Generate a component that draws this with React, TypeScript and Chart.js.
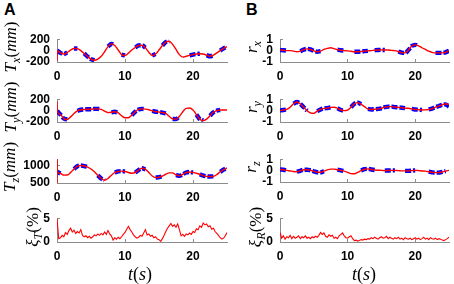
import React, { useEffect, useRef } from "react";
import { Chart, registerables } from "chart.js";

Chart.register(...registerables);

// ---------------- data ----------------
const xTicks = [0, 10, 20];
const tTicks = [-200, 0, 200];
const tzTicks = [500, 1000];
const rTicks = [-1, 0, 1];
const xiTicks = [0, 5];

// measurement time grid (s)
const tGrid = [
  0, 0.5, 1, 1.5, 2, 2.5, 3, 3.5, 4, 4.5,
  5, 5.5, 6, 6.5, 7, 7.5, 8, 8.5, 9, 9.5,
  10, 10.5, 11, 11.5, 12, 12.5, 13, 13.5, 14, 14.5,
  15, 15.5, 16, 16.5, 17, 17.5, 18, 18.5, 19, 19.5,
  20, 20.5, 21, 21.5, 22, 22.5, 23, 23.5, 24, 24.5,
  25,
];
// estimate time grid (s), with the start-up transient
const tEst = [
  0, 0.02, 0.05,
  0.5, 1, 1.5, 2, 2.5, 3, 3.5, 4, 4.5,
  5, 5.5, 6, 6.5, 7, 7.5, 8, 8.5, 9, 9.5,
  10, 10.5, 11, 11.5, 12, 12.5, 13, 13.5, 14, 14.5,
  15, 15.5, 16, 16.5, 17, 17.5, 18, 18.5, 19, 19.5,
  20, 20.5, 21, 21.5, 22, 22.5, 23, 23.5, 24, 24.5,
  25,
];
// error time grid (s)
const tFine = [
  0, 0.25, 0.5, 0.75, 1, 1.25, 1.5, 1.75, 2, 2.25, 2.5, 2.75, 3, 3.25, 3.5, 3.75, 4, 4.25, 4.5, 4.75,
  5, 5.25, 5.5, 5.75, 6, 6.25, 6.5, 6.75, 7, 7.25, 7.5, 7.75, 8, 8.25, 8.5, 8.75, 9, 9.25, 9.5, 9.75,
  10, 10.25, 10.5, 10.75, 11, 11.25, 11.5, 11.75, 12, 12.25, 12.5, 12.75, 13, 13.25, 13.5, 13.75, 14, 14.25, 14.5, 14.75,
  15, 15.25, 15.5, 15.75, 16, 16.25, 16.5, 16.75, 17, 17.25, 17.5, 17.75, 18, 18.25, 18.5, 18.75, 19, 19.25, 19.5, 19.75,
  20, 20.25, 20.5, 20.75, 21, 21.25, 21.5, 21.75, 22, 22.25, 22.5, 22.75, 23, 23.25, 23.5, 23.75, 24, 24.25, 24.5, 24.75,
  25,
];

// T_x (mm)
const txEst = [
  -180, -90, 0,
  -40, -60, -35, 10, 38, 35, 0, -50, -105,
  -150, -170, -150, -100, -20, 70, 115, 90, 10, -70,
  -85, -45, 10, 55, 90, 95, 50, -30, -85, -60,
  10, 90, 150, 165, 110, 20, -70, -115, -100, -85,
  -70, -60, -55, -60, -80, -100, -80, -40, 0, 40,
  70,
];
const txMeas = [
  0, -40, -60, -35, null, 38, 35, null, -50, -105,
  -150, -170, null, null, null, 70, 115, 90, null, -70,
  -85, null, null, 55, 90, 95, 50, null, -85, -60,
  null, 90, 150, 165, null, null, null, null, null, -85,
  -70, -60, -55, null, -80, -100, -80, null, 0, 40,
  70,
];
// T_y (mm)
const tyEst = [
  160, 80, -10,
  -70, -140, -155, -110, -50, -5, 15, 20, 25,
  25, 30, 30, 20, -10, -35, -30, -20, -40, -90,
  -125, -125, -80, -20, 20, 30, 25, 15, -5, -20,
  -25, -35, -50, -100, -145, -150, -100, -20, 40, 45,
  10, -70, -150, -175, -150, -90, -30, 0, 10, 10,
  10,
];
const tyMeas = [
  -10, -70, -140, -155, null, null, -5, 15, 20, 25,
  25, 30, 30, 20, null, null, -30, -20, -40, null,
  null, null, -80, -20, 20, 30, 25, null, -5, -20,
  -25, -35, -50, null, -145, -150, -100, null, null, null,
  null, -70, -150, -175, null, -90, -30, 0, 10, null,
  null,
];
// T_z (mm)
const tzEst = [
  420, 1200, 820,
  770, 725, 730, 800, 900, 980, 1000, 985, 955,
  900, 820, 720, 630, 580, 630, 720, 800, 830, 840,
  830, 800, 780, 800, 870, 920, 890, 800, 700, 655,
  665, 700, 750, 790, 790, 730, 705, 750, 800, 815,
  800, 780, 750, 710, 690, 685, 690, 740, 820, 880,
  930,
];
const tzMeas = [
  820, 770, null, null, null, 900, 980, 1000, 985, 955,
  null, null, 720, 630, 580, null, null, 800, 830, 840,
  830, null, null, 800, 870, 920, 890, null, null, 655,
  665, 700, null, null, null, 730, 705, 750, 800, 815,
  800, null, 750, 710, 690, 685, 690, null, 820, 880,
  930,
];
// r_x
const rxEst = [
  0.05, 0.05, 0.05,
  0.03, 0, 0, -0.05, -0.1, -0.05, 0.08, 0.15, 0.1,
  -0.02, -0.1, -0.05, 0.1, 0.2, 0.25, 0.18, 0.08, 0.03, 0,
  -0.02, -0.06, -0.1, -0.1, -0.08, -0.05, -0.02, 0, 0.03, 0.05,
  0.06, 0.05, 0.05, 0.02, 0, -0.08, -0.18, -0.2, 0.05, 0.4,
  0.5, 0.42, 0.25, 0.1, -0.05, -0.15, -0.2, -0.2, -0.2, -0.15,
  0,
];
const rxMeas = [
  0.05, 0.03, 0, null, null, null, -0.05, 0.08, 0.15, 0.1,
  -0.02, -0.1, -0.05, null, null, null, null, 0.08, 0.03, 0,
  null, null, -0.1, -0.1, -0.08, -0.05, -0.02, null, 0.03, 0.05,
  0.06, 0.05, null, null, null, -0.08, -0.18, -0.2, 0.05, 0.4,
  0.5, 0.4, null, null, null, null, -0.2, -0.2, -0.2, -0.15,
  0,
];
// r_y
const ryEst = [
  0.02, 0.02, 0.02,
  0.05, 0.1, 0.3, 0.6, 0.75, 0.6, 0.3, 0, -0.2,
  -0.24, -0.05, 0.1, 0.2, 0.22, 0.28, 0.3, 0.2, 0.05, 0,
  0.05, 0.3, 0.6, 0.7, 0.55, 0.35, 0.15, 0.1, 0.12, 0.15,
  0.2, 0.3, 0.35, 0.35, 0.3, 0.28, 0.25, 0.22, 0.2, 0.15,
  0.1, 0.08, 0.05, 0.06, 0.1, 0.18, 0.3, 0.4, 0.5, 0.6,
  0.5,
];
const ryMeas = [
  0.02, 0.05, 0.1, null, 0.6, 0.75, 0.6, 0.3, 0, null,
  null, -0.05, 0.1, 0.2, 0.22, 0.28, null, 0.2, 0.05, 0,
  null, 0.3, 0.6, 0.7, 0.55, null, 0.15, 0.1, 0.12, 0.15,
  0.2, 0.3, 0.35, 0.35, 0.3, 0.28, 0.25, 0.22, null, 0.15,
  0.1, 0.08, 0.05, null, 0.1, 0.18, 0.3, 0.4, 0.5, 0.55,
  0.35,
];
// r_z
const rzEst = [
  0.1, 0.1, 0.1,
  0.07, 0.02, -0.03, -0.08, -0.1, -0.02, 0.08, 0.08, 0.03,
  -0.06, -0.14, -0.15, -0.05, 0.06, 0.13, 0.13, 0.08, 0.02, -0.05,
  -0.15, -0.26, -0.28, -0.15, 0, 0.12, 0.15, 0.1, 0.05, 0.03,
  0.02, 0, 0.01, 0.02, 0.02, 0, -0.02, -0.02, -0.02, 0,
  0.02, 0, -0.03, -0.05, -0.1, -0.15, -0.18, -0.18, -0.12, -0.05,
  0.02,
];
const rzMeas = [
  0.1, 0.07, 0.02, null, null, -0.1, -0.02, 0.08, 0.08, 0.03,
  -0.06, -0.14, -0.15, -0.05, null, null, null, 0.08, 0.02, -0.05,
  null, null, null, null, 0, 0.12, 0.15, 0.1, 0.05, null,
  null, 0, 0.01, 0.02, 0.02, null, null, -0.02, -0.02, 0,
  0.02, null, null, null, -0.1, -0.15, -0.18, -0.18, -0.12, -0.05,
  null,
];
// xi_T (%)
const xiT = [
  5.0, 0.7, 0.9, 1.4, 1.1, 2.0, 1.6, 2.4, 2.9, 2.1, 2.5, 1.8, 2.2, 1.9, 2.6, 1.4, 1.1, 1.3, 0.9, 1.2,
  0.8, 1.1, 1.5, 1.3, 1.7, 1.4, 1.8, 1.5, 2.1, 1.6, 2.4, 1.7, 1.3, 0.4, 0.9, 0.6, 1.0, 0.7, 1.1, 1.6,
  2.0, 2.7, 3.3, 2.6, 2.1, 1.5, 1.1, 0.8, 1.0, 1.4, 1.2, 1.9, 2.6, 1.5, 1.7, 1.2, 1.4, 0.9, 1.1, 0.6,
  0.5, 0.15, 0.7, 1.4, 2.2, 2.9, 3.4, 3.9, 3.3, 3.6, 3.1, 3.8, 2.6, 1.3, 1.6, 1.2, 1.7, 1.5, 1.9, 1.6,
  2.2, 2.0, 2.8, 2.6, 3.4, 3.1, 4.0, 3.6, 3.8, 3.2, 3.4, 2.7, 2.9, 2.2, 1.8, 1.4, 0.9, 0.6, 0.8, 1.3,
  2.0,
];
// xi_R (%)
const xiR = [
  2.0, 0.8, 1.3, 0.6, 1.1, 0.9, 1.4, 0.7, 1.2, 0.8, 1.0, 1.3, 0.7, 1.1, 0.9, 1.3, 0.8, 1.0, 0.7, 1.1,
  0.9, 1.2, 1.0, 1.4, 2.0, 1.6, 1.9, 1.2, 1.0, 1.5, 1.2, 1.4, 0.8, 1.0, 0.7, 1.3, 1.6, 1.9, 1.3, 0.9,
  0.8, 1.1, 1.3, 0.7, 0.3, 0.4, 0.2, 0.3, 0.5, 0.4, 0.6, 0.5, 0.7, 0.6, 0.9, 0.7, 1.0, 0.8, 0.6, 0.9,
  1.1, 0.8, 0.9, 1.2, 0.7, 1.0, 0.8, 0.6, 0.9, 0.7, 1.0, 0.6, 0.8, 0.5, 0.9, 0.7, 0.6, 0.8, 0.5, 0.7,
  0.9, 0.6, 0.8, 0.5, 0.7, 1.0, 0.6, 0.8, 0.5, 0.9, 0.7, 0.6, 0.8, 0.5, 0.7, 0.6, 0.4, 0.3, 0.5, 0.7,
  1.0,
];

// ---------------- styling ----------------
const RED = "#ff0000";
const BLUE = "#0000ff";
const AXIS = "#8c8c8c";
const SANS = "'Liberation Sans', Arial, Helvetica, sans-serif";
const SERIF = "'Liberation Serif', 'Times New Roman', serif";
const PL = 46;
const PT = 10;
const PR = 6;
const PB = 24;

function pts(t: number[], v: (number | null)[]) {
  return t.map((x, i) => ({ x, y: v[i] }));
}

function est(v: number[]) {
  return {
    data: pts(tEst, v),
    borderColor: RED,
    borderWidth: 1.4,
    pointRadius: 0,
    cubicInterpolationMode: "monotone",
    order: 0,
  };
}
function meas(v: (number | null)[]) {
  return {
    data: pts(tGrid, v),
    borderColor: BLUE,
    borderWidth: 4.4,
    borderDash: [6, 2],
    borderCapStyle: "butt",
    pointRadius: 0,
    spanGaps: false,
    cubicInterpolationMode: "monotone",
    order: 1,
  };
}
function noise(v: number[]) {
  return {
    data: pts(tFine, v),
    borderColor: RED,
    borderWidth: 1.1,
    pointRadius: 0,
    tension: 0,
    order: 0,
  };
}

type PanelProps = {
  l: number;
  t: number;
  w: number;
  h: number;
  yMin: number;
  yMax: number;
  yTicks: number[];
  datasets: any[];
};

function Panel(p: PanelProps) {
  const ref = useRef<HTMLCanvasElement>(null);
  useEffect(() => {
    const font: any = { family: SANS, size: 12, weight: "bold" };
    const chart = new Chart(ref.current as HTMLCanvasElement, {
      type: "line",
      data: { datasets: p.datasets as any },
      options: {
        animation: false,
        responsive: false,
        events: [],
        layout: { padding: { left: 0, top: PT, right: PR, bottom: 0 } },
        plugins: { legend: { display: false }, tooltip: { enabled: false } },
        scales: {
          x: {
            type: "linear",
            min: 0,
            max: 25,
            afterBuildTicks: (s: any) => {
              s.ticks = xTicks.map((v) => ({ value: v }));
            },
            afterFit: (s: any) => {
              s.height = PB;
            },
            grid: { display: true, drawOnChartArea: false, drawTicks: true, tickLength: -3, color: AXIS },
            border: { display: true, color: AXIS, width: 1 },
            ticks: { font, color: "#000", padding: 10, maxRotation: 0, autoSkip: false, callback: (v: any) => String(v) },
          },
          y: {
            type: "linear",
            min: p.yMin,
            max: p.yMax,
            afterBuildTicks: (s: any) => {
              s.ticks = p.yTicks.map((v) => ({ value: v }));
            },
            afterFit: (s: any) => {
              s.width = PL;
            },
            grid: { display: true, drawOnChartArea: false, drawTicks: true, tickLength: -3, color: AXIS },
            border: { display: true, color: AXIS, width: 1 },
            ticks: { font, color: "#000", padding: 10, autoSkip: false, callback: (v: any) => String(v) },
          },
        },
      } as any,
    });
    return () => chart.destroy();
  }, []);
  return (
    <canvas
      ref={ref}
      width={p.w + PL + PR}
      height={p.h + PT + PB}
      style={{ position: "absolute", left: p.l - PL, top: p.t - PT }}
    />
  );
}

const Sub = ({ children }: { children: any }) => (
  <span style={{ fontSize: "0.72em", position: "relative", top: "0.3em" }}>{children}</span>
);
const Up = ({ children }: { children: any }) => <span style={{ fontStyle: "normal" }}>{children}</span>;

function YTitle({ x, y, children }: { x: number; y: number; children: any }) {
  return (
    <div
      style={{
        position: "absolute",
        left: x,
        top: y,
        transform: "translate(-50%, -50%) rotate(-90deg)",
        whiteSpace: "nowrap",
        fontFamily: SERIF,
        fontStyle: "italic",
        fontSize: 17,
        lineHeight: "20px",
        color: "#000",
      }}
    >
      {children}
    </div>
  );
}

function Text({ x, y, size, bold, italic, serif, children }: any) {
  return (
    <div
      style={{
        position: "absolute",
        left: x,
        top: y,
        whiteSpace: "nowrap",
        fontFamily: serif ? SERIF : SANS,
        fontWeight: bold ? "bold" : "normal",
        fontStyle: italic ? "italic" : "normal",
        fontSize: size,
        lineHeight: `${size}px`,
        color: "#000",
      }}
    >
      {children}
    </div>
  );
}

export default function App() {
  const LX = 57;
  const LW = 170;
  const RX = 280;
  const RW = 169;
  return (
    <div style={{ position: "absolute", left: 0, top: 0, width: 454, height: 284, background: "#fff", overflow: "hidden" }}>
      <Panel l={LX} t={32} w={LW} h={30} yMin={-200} yMax={200} yTicks={tTicks} datasets={[est(txEst), meas(txMeas)]} />
      <Panel l={LX} t={92} w={LW} h={30} yMin={-200} yMax={200} yTicks={tTicks} datasets={[est(tyEst), meas(tyMeas)]} />
      <Panel l={LX} t={152} w={LW} h={31} yMin={500} yMax={1180} yTicks={tzTicks} datasets={[est(tzEst), meas(tzMeas)]} />
      <Panel l={LX} t={211} w={LW} h={31} yMin={0} yMax={5} yTicks={xiTicks} datasets={[noise(xiT)]} />

      <Panel l={RX} t={32} w={RW} h={30} yMin={-1} yMax={1} yTicks={rTicks} datasets={[est(rxEst), meas(rxMeas)]} />
      <Panel l={RX} t={92} w={RW} h={30} yMin={-1} yMax={1} yTicks={rTicks} datasets={[est(ryEst), meas(ryMeas)]} />
      <Panel l={RX} t={152} w={RW} h={30} yMin={-1} yMax={1} yTicks={rTicks} datasets={[est(rzEst), meas(rzMeas)]} />
      <Panel l={RX} t={211} w={RW} h={31} yMin={0} yMax={5} yTicks={xiTicks} datasets={[noise(xiR)]} />

      <Text x={4} y={2} size={16} bold>A</Text>
      <Text x={246} y={2} size={16} bold>B</Text>

      <YTitle x={11} y={47}>T<Sub>x</Sub><Up>(</Up>mm<Up>)</Up></YTitle>
      <YTitle x={11} y={107}>T<Sub>y</Sub><Up>(</Up>mm<Up>)</Up></YTitle>
      <YTitle x={10} y={167}>T<Sub>z</Sub><Up>(</Up>mm<Up>)</Up></YTitle>
      <YTitle x={33} y={227}>ξ<Sub>T</Sub><Up>(%)</Up></YTitle>

      <YTitle x={252} y={47}>r<Sub>x</Sub></YTitle>
      <YTitle x={252} y={107}>r<Sub>y</Sub></YTitle>
      <YTitle x={251} y={167}>r<Sub>z</Sub></YTitle>
      <YTitle x={256} y={227}>ξ<Sub>R</Sub><Up>(%)</Up></YTitle>

      <Text x={128} y={265} size={18} italic serif>t<Up>(</Up>s<Up>)</Up></Text>
      <Text x={352} y={265} size={18} italic serif>t<Up>(</Up>s<Up>)</Up></Text>
    </div>
  );
}
